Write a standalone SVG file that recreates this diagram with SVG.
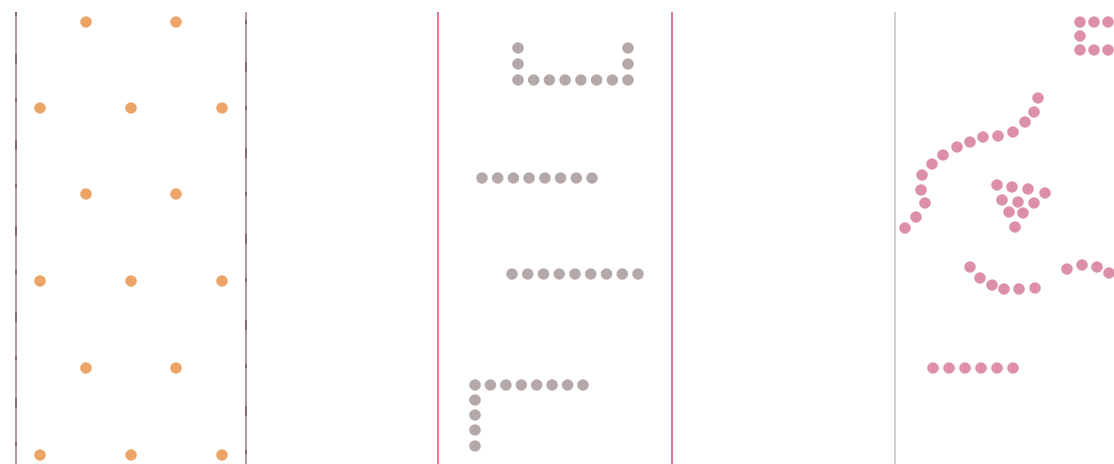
<svg xmlns="http://www.w3.org/2000/svg" width="1114" height="464" viewBox="0 0 1114 464">
<style>
.l1{stroke:#b89aa2;stroke-width:2}
.l1d{stroke:#8a6a72;stroke-width:2;stroke-dasharray:4 38 10 34}
.l2{stroke:#e87890;stroke-width:2}
.l3{stroke:#cfcfd4;stroke-width:2}
.o{fill:#eca467}
.g{fill:#b4a8a8}
.p{fill:#dc8fa9}
circle{r:5.8px}
</style>
<rect width="1114" height="464" fill="#ffffff"/>
<g id="panel1">
<line class="l1" x1="16" y1="12" x2="16" y2="464"/>
<line class="l1" x1="246" y1="12" x2="246" y2="464"/>
<line class="l1d" x1="16" y1="12" x2="16" y2="464"/>
<line class="l1d" x1="246" y1="20" x2="246" y2="464"/>
<g class="o">
<circle cx="86" cy="22" r="5.8"/><circle cx="176" cy="22" r="5.8"/>
<circle cx="40" cy="108" r="5.8"/><circle cx="131" cy="108" r="5.8"/><circle cx="222" cy="108" r="5.8"/>
<circle cx="86" cy="194" r="5.8"/><circle cx="176" cy="194" r="5.8"/>
<circle cx="40" cy="281" r="5.8"/><circle cx="131" cy="281" r="5.8"/><circle cx="222" cy="281" r="5.8"/>
<circle cx="86" cy="368" r="5.8"/><circle cx="176" cy="368" r="5.8"/>
<circle cx="40" cy="455" r="5.8"/><circle cx="131" cy="455" r="5.8"/><circle cx="222" cy="455" r="5.8"/>
</g>
</g>
<g id="panel2">
<line class="l2" x1="438" y1="12" x2="438" y2="464"/>
<line class="l2" x1="672" y1="12" x2="672" y2="464"/>
<g class="g">
<circle cx="518" cy="48" r="5.8"/><circle cx="518" cy="64" r="5.8"/>
<circle cx="628" cy="48" r="5.8"/><circle cx="628" cy="64" r="5.8"/>
<circle cx="518" cy="80" r="5.8"/><circle cx="533.7" cy="80" r="5.8"/><circle cx="549.4" cy="80" r="5.8"/><circle cx="565.1" cy="80" r="5.8"/><circle cx="580.9" cy="80" r="5.8"/><circle cx="596.6" cy="80" r="5.8"/><circle cx="612.3" cy="80" r="5.8"/><circle cx="628" cy="80" r="5.8"/>
<circle cx="482" cy="178" r="5.8"/><circle cx="497.7" cy="178" r="5.8"/><circle cx="513.4" cy="178" r="5.8"/><circle cx="529.1" cy="178" r="5.8"/><circle cx="544.9" cy="178" r="5.8"/><circle cx="560.6" cy="178" r="5.8"/><circle cx="576.3" cy="178" r="5.8"/><circle cx="592" cy="178" r="5.8"/>
<circle cx="512" cy="274" r="5.8"/><circle cx="527.75" cy="274" r="5.8"/><circle cx="543.5" cy="274" r="5.8"/><circle cx="559.25" cy="274" r="5.8"/><circle cx="575" cy="274" r="5.8"/><circle cx="590.75" cy="274" r="5.8"/><circle cx="606.5" cy="274" r="5.8"/><circle cx="622.25" cy="274" r="5.8"/><circle cx="638" cy="274" r="5.8"/>
<circle cx="475" cy="385" r="5.8"/><circle cx="490.4" cy="385" r="5.8"/><circle cx="505.9" cy="385" r="5.8"/><circle cx="521.3" cy="385" r="5.8"/><circle cx="536.7" cy="385" r="5.8"/><circle cx="552.1" cy="385" r="5.8"/><circle cx="567.6" cy="385" r="5.8"/><circle cx="583" cy="385" r="5.8"/>
<circle cx="475" cy="400" r="5.8"/><circle cx="475" cy="415" r="5.8"/><circle cx="475" cy="430" r="5.8"/><circle cx="475" cy="446" r="5.8"/>
</g>
</g>
<g id="panel3">
<line class="l3" x1="895" y1="12" x2="895" y2="464"/>
<g class="p">
<circle cx="1080" cy="22" r="5.8"/><circle cx="1094" cy="22" r="5.8"/><circle cx="1108" cy="22" r="5.8"/>
<circle cx="1080" cy="36" r="5.8"/>
<circle cx="1080" cy="50" r="5.8"/><circle cx="1094" cy="50" r="5.8"/><circle cx="1108" cy="50" r="5.8"/>
<circle cx="1038" cy="98" r="5.8"/><circle cx="1034" cy="112" r="5.8"/><circle cx="1025" cy="122" r="5.8"/><circle cx="1013" cy="132" r="5.8"/><circle cx="998" cy="136" r="5.8"/><circle cx="983" cy="137" r="5.8"/><circle cx="970" cy="142" r="5.8"/><circle cx="957" cy="147" r="5.8"/><circle cx="943" cy="155" r="5.8"/><circle cx="932" cy="164" r="5.8"/><circle cx="922" cy="175" r="5.8"/><circle cx="921" cy="190" r="5.8"/><circle cx="925" cy="203" r="5.8"/><circle cx="916" cy="217" r="5.8"/><circle cx="905" cy="228" r="5.8"/>
<circle cx="997" cy="185" r="5.8"/><circle cx="1012" cy="187" r="5.8"/><circle cx="1028" cy="189" r="5.8"/><circle cx="1045" cy="193" r="5.8"/>
<circle cx="1002" cy="200" r="5.8"/><circle cx="1018" cy="202" r="5.8"/><circle cx="1034" cy="203" r="5.8"/>
<circle cx="1009" cy="212" r="5.8"/><circle cx="1023" cy="213" r="5.8"/>
<circle cx="1015" cy="227" r="5.8"/>
<circle cx="970" cy="267" r="5.8"/><circle cx="980" cy="278" r="5.8"/><circle cx="992" cy="285" r="5.8"/><circle cx="1004" cy="289" r="5.8"/><circle cx="1019" cy="289" r="5.8"/><circle cx="1035" cy="288" r="5.8"/>
<circle cx="1067" cy="269" r="5.8"/><circle cx="1082" cy="265" r="5.8"/><circle cx="1097" cy="267" r="5.8"/><circle cx="1109" cy="273" r="5.8"/>
<circle cx="933" cy="368" r="5.8"/><circle cx="949" cy="368" r="5.8"/><circle cx="965" cy="368" r="5.8"/><circle cx="981" cy="368" r="5.8"/><circle cx="997" cy="368" r="5.8"/><circle cx="1013" cy="368" r="5.8"/>
</g>
</g>
</svg>
